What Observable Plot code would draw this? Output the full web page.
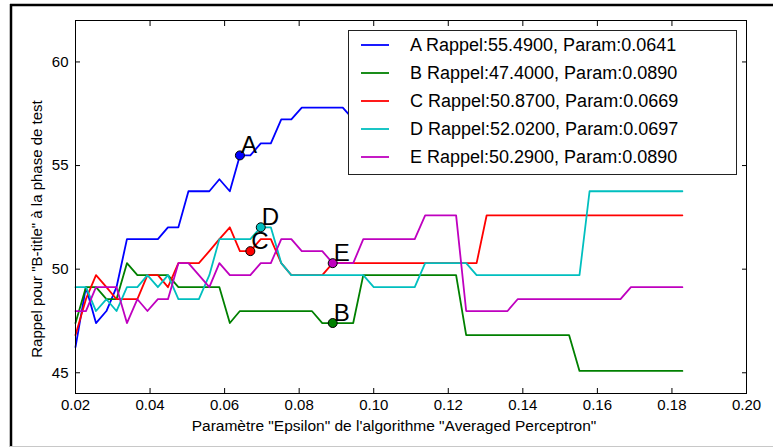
<!DOCTYPE html>
<html><head><meta charset="utf-8">
<script src="https://cdn.jsdelivr.net/npm/d3@7"></script>
<script src="https://cdn.jsdelivr.net/npm/@observablehq/plot@0.6"></script>
<style>
body{margin:0;background:#fff;}
#wrap{position:relative;width:773px;height:447px;overflow:hidden;font-family:"Liberation Sans",Arial,sans-serif;}
</style></head><body><div id="wrap"><div id="chart"></div></div>
<script>
const xParam = [0.0200,0.0228,0.0255,0.0283,0.0310,0.0338,0.0366,0.0393,0.0421,0.0448,
  0.0476,0.0503,0.0531,0.0559,0.0586,0.0614,0.0641,0.0669,0.0697,0.0724,
  0.0752,0.0779,0.0807,0.0834,0.0862,0.0890,0.0917,0.0945,0.0972,0.1000,
  0.1028,0.1055,0.1083,0.1110,0.1138,0.1166,0.1193,0.1221,0.1248,0.1276,
  0.1303,0.1331,0.1359,0.1386,0.1414,0.1441,0.1469,0.1497,0.1524,0.1552,
  0.1579,0.1607,0.1634,0.1662,0.1690,0.1717,0.1745,0.1772,0.1800,0.1828];
const seriesNames = ["A","B","C","D","E"];
const seriesColors = ["#0000ff","#008000","#ff0000","#00bfbf","#bf00bf"];
const rappelA = [46.24,49.13,47.40,47.98,49.13,51.45,51.45,51.45,51.45,52.02,
  52.02,53.76,53.76,53.76,54.34,53.76,55.49,55.49,56.07,56.07,
  57.23,57.23,57.80,57.80,57.80,57.80,57.80,57.23,57.23,56.65,
  56.65,56.65,57.23,57.23,57.23,56.65,56.65,56.07,56.07,56.07,
  56.65,56.65,56.65,56.65,56.65,56.65,56.65,56.65,56.65,56.65,
  56.65,56.65,56.65,56.65,56.65,56.65,56.65,56.65,56.65,56.65];
const rappelB = [47.40,49.13,49.13,48.55,48.55,50.29,49.71,49.71,49.71,49.71,
  49.13,49.13,49.13,49.13,49.13,47.40,47.98,47.98,47.98,47.98,
  47.98,47.98,47.98,47.98,47.40,47.40,47.40,47.40,49.71,49.71,
  49.71,49.71,49.71,49.71,49.71,49.71,49.71,49.71,46.82,46.82,
  46.82,46.82,46.82,46.82,46.82,46.82,46.82,46.82,46.82,45.09,
  45.09,45.09,45.09,45.09,45.09,45.09,45.09,45.09,45.09,45.09];
const rappelC = [46.82,48.55,49.71,49.13,48.55,48.55,48.55,49.71,49.71,49.13,
  50.29,50.29,50.29,50.87,51.45,52.02,50.87,50.87,51.45,51.45,
  50.29,49.71,49.71,49.71,49.71,50.29,50.29,50.29,50.29,50.29,
  50.29,50.29,50.29,50.29,50.29,50.29,50.29,50.29,50.29,50.29,
  52.60,52.60,52.60,52.60,52.60,52.60,52.60,52.60,52.60,52.60,
  52.60,52.60,52.60,52.60,52.60,52.60,52.60,52.60,52.60,52.60];
const rappelD = [49.13,49.13,47.98,48.55,47.98,49.13,49.13,49.71,49.13,49.71,
  48.55,48.55,48.55,49.71,51.45,51.45,51.45,51.45,52.02,52.02,
  50.29,49.71,49.71,49.71,49.71,49.71,49.71,49.71,49.71,49.13,
  49.13,49.13,49.13,49.13,50.29,50.29,50.29,50.29,50.29,49.71,
  49.71,49.71,49.71,49.71,49.71,49.71,49.71,49.71,49.71,49.71,
  53.76,53.76,53.76,53.76,53.76,53.76,53.76,53.76,53.76,53.76];
const rappelE = [47.98,47.98,49.13,49.13,49.13,47.40,48.55,47.98,48.55,48.55,
  50.29,50.29,49.71,49.13,50.29,49.71,49.71,49.71,50.29,50.29,
  51.45,51.45,50.87,50.87,50.87,50.29,50.29,50.29,51.45,51.45,
  51.45,51.45,51.45,51.45,52.60,52.60,52.60,52.60,47.98,47.98,
  47.98,47.98,47.98,48.55,48.55,48.55,48.55,48.55,48.55,48.55,
  48.55,48.55,48.55,48.55,49.13,49.13,49.13,49.13,49.13,49.13];
const bestRappel = [55.49,47.40,50.87,52.02,50.29];
const bestParam = [0.0641,0.0890,0.0669,0.0697,0.0890];
const xTicks = [0.02,0.04,0.06,0.08,0.10,0.12,0.14,0.16,0.18,0.20];
const yTicks = [45,50,55,60];
const xLabel = "Paramètre \"Epsilon\" de l'algorithme \"Averaged Perceptron\"";
const yLabel = "Rappel pour \"B-title\" à la phase de test";

const allSeries = [rappelA, rappelB, rappelC, rappelD, rappelE];
const rows = allSeries.flatMap((vals, i) => vals.map((v, j) => ({name: seriesNames[i], x: xParam[j], y: v})));
const best = seriesNames.map((n, i) => ({name: n, x: bestParam[i], y: bestRappel[i]}));
const legendLabels = seriesNames.map((n, i) => `${n} Rappel:${bestRappel[i].toFixed(4)}, Param:${bestParam[i].toFixed(4)}`);

const font = "Liberation Sans, Arial, sans-serif";
const plot = Plot.plot({
  width: 773, height: 447,
  marginLeft: 75, marginRight: 27, marginTop: 20, marginBottom: 54,
  style: {fontFamily: font, fontSize: "15px", background: "white", color: "black"},
  x: {domain: [0.02, 0.20]},
  y: {domain: [44, 62]},
  color: {domain: seriesNames, range: seriesColors},
  marks: [
    Plot.line(rows, {x: "x", y: "y", z: "name", stroke: "name", strokeWidth: 1.8}),
    Plot.dot(best, {x: "x", y: "y", fill: "name", stroke: "black", r: 4.5, strokeWidth: 1}),
    Plot.text(best, {x: "x", y: "y", text: "name", textAnchor: "start", lineAnchor: "bottom", dx: 1, dy: -2, fontSize: 24, fill: "black"}),
    Plot.frame({stroke: "black"}),
    Plot.axisX({ticks: xTicks, tickSize: -5, tickPadding: 11, tickFormat: d => d.toFixed(2), label: null}),
    Plot.axisX({anchor: "top", ticks: xTicks, tickSize: -5, tickFormat: () => "", label: null}),
    Plot.axisY({ticks: yTicks, tickSize: -5, tickPadding: 12, label: null}),
    Plot.axisY({anchor: "right", ticks: yTicks, tickSize: -5, tickFormat: () => "", label: null}),
    Plot.text([xLabel], {frameAnchor: "bottom", textAnchor: "middle", dx: -17, dy: 37, fontSize: 15.5}),
    Plot.text([yLabel], {frameAnchor: "left", textAnchor: "middle", rotate: -90, dx: -38, dy: 22, fontSize: 15})
  ]
});

const svg = d3.select(plot);
const lg = svg.append("g").attr("text-anchor", "start");
lg.append("rect").attr("x", 348.5).attr("y", 30.5).attr("width", 388).attr("height", 144)
  .attr("fill", "white").attr("stroke", "#222").attr("stroke-width", 1);
seriesNames.forEach((n, i) => {
  const y = 45 + i * 28;
  lg.append("line").attr("x1", 361).attr("x2", 389).attr("y1", y).attr("y2", y)
    .attr("stroke", seriesColors[i]).attr("stroke-width", 1.8);
  lg.append("text").attr("x", 410).attr("y", y).attr("dy", "0.35em").attr("text-anchor", "start")
    .attr("font-size", 18).attr("font-family", font).attr("fill", "black").text(legendLabels[i]);
});
// outer border of the picture
const border = svg.append("g").attr("fill", "none");
border.append("line").attr("x1", 10).attr("x2", 773).attr("y1", 5).attr("y2", 5).attr("stroke", "black").attr("stroke-width", 2.5);
border.append("line").attr("x1", 11).attr("x2", 11).attr("y1", 4).attr("y2", 447).attr("stroke", "black").attr("stroke-width", 2.5);
border.append("line").attr("x1", 10).attr("x2", 773).attr("y1", 446.5).attr("y2", 446.5).attr("stroke", "#c8c8c8").attr("stroke-width", 1);
document.getElementById("chart").appendChild(plot);
</script></body></html>
